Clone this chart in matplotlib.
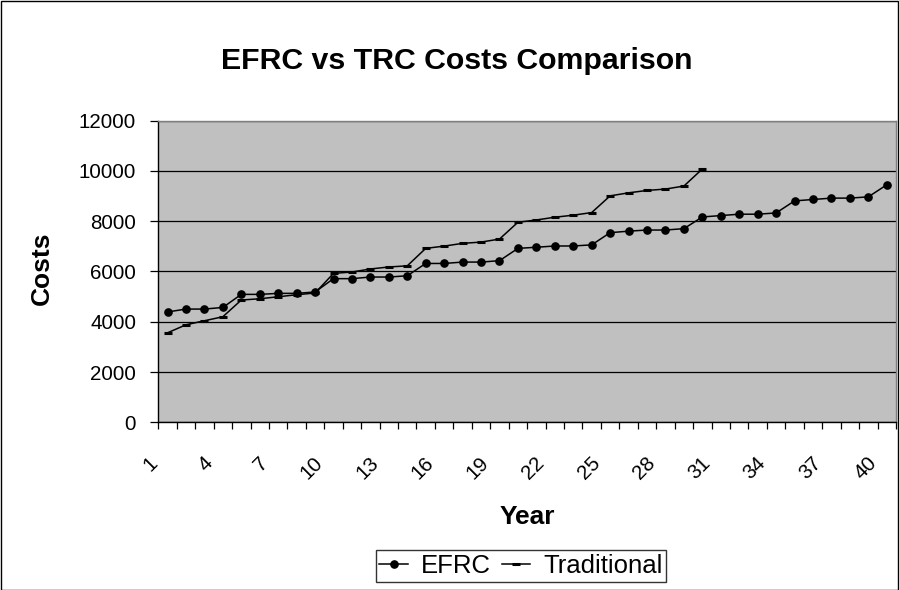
import matplotlib
matplotlib.use("Agg")
import matplotlib.pyplot as plt
import matplotlib.transforms as mtransforms
from matplotlib.ticker import FixedLocator, NullFormatter
from matplotlib.patches import Rectangle

plt.rcParams['font.family'] = ['Liberation Sans', 'DejaVu Sans']

years = list(range(1, 41))
efrc = [4390, 4505, 4505, 4570, 5090, 5090, 5130, 5130, 5185, 5715,
        5715, 5780, 5780, 5830, 6320, 6320, 6375, 6375, 6430, 6920,
        6965, 7015, 7015, 7060, 7545, 7605, 7650, 7650, 7705, 8170,
        8225, 8280, 8280, 8330, 8810, 8865, 8920, 8920, 8970, 9450]
trad_years = list(range(1, 31))
traditional = [3560, 3880, 4040, 4200, 4865, 4915, 4995, 5075, 5145, 5925,
               5980, 6100, 6180, 6225, 6920, 7010, 7120, 7170, 7290, 7960,
               8050, 8160, 8240, 8345, 9010, 9130, 9225, 9280, 9400, 10080]
xtick_labels = [str(v) for v in range(1, 41, 3)]
yticks = [0, 2000, 4000, 6000, 8000, 10000, 12000]

W, H = 899, 590
fig = plt.figure(figsize=(W / 100, H / 100), dpi=100)
ax = fig.add_axes([158.3 / W, 1 - 422.3 / H, (896 - 158.3) / W, (422.3 - 120.7) / H])
ax.set_facecolor('#C0C0C0')

ax.plot(years, efrc, color='black', lw=1.1, marker='o', ms=5.2,
        mfc='black', mec='black', label='EFRC', zorder=3)
ax.plot(trad_years, traditional, color='black', lw=1.1, marker='_', ms=6,
        mew=2.2, label='Traditional', zorder=3)

ax.set_xlim(0.5, 40.5)
ax.set_ylim(0, 12000)
ax.set_yticks(yticks)
ax.set_yticklabels([str(v) for v in yticks], fontsize=14.8)
ax.yaxis.grid(True, color='black', lw=0.9)
ax.set_axisbelow(True)
ax.tick_params(axis='y', length=6, width=0.9, pad=10)

ax.set_xticks(list(range(1, 41, 3)))
ax.set_xticklabels(xtick_labels, fontsize=14.8, rotation=45, ha='right',
                   va='top', rotation_mode='anchor')
ax.xaxis.set_minor_locator(FixedLocator([i + 0.5 for i in range(0, 41)]))
ax.xaxis.set_minor_formatter(NullFormatter())
ax.tick_params(axis='x', which='major', length=0, pad=22)
ax.tick_params(axis='x', which='minor', length=5, width=0.9)
offset = mtransforms.ScaledTranslation(-20 / 100, 0, fig.dpi_scale_trans)
for lab in ax.get_xticklabels():
    lab.set_transform(lab.get_transform() + offset)

for s in ['left', 'bottom']:
    ax.spines[s].set_color('black')
    ax.spines[s].set_linewidth(1.0)
for s in ['top', 'right']:
    ax.spines[s].set_color('#808080')
    ax.spines[s].set_linewidth(1.0)

fig.text(527 / W, 1 - 524 / H, 'Year', fontsize=19, fontweight='bold',
         ha='center', va='baseline')
fig.text(42 / W, 1 - 268 / H, 'Costs', fontsize=19, fontweight='bold',
         ha='center', va='center', rotation=90)

fig.text(456.5 / W, 1 - 61 / H, 'EFRC vs TRC Costs Comparison', fontsize=21.8,
         fontweight='bold', ha='center', va='center')

leg = fig.legend(loc='upper center', bbox_to_anchor=(521 / W, 1 - 550 / H),
                 ncol=2, fontsize=18.5, frameon=True, fancybox=False,
                 edgecolor='black', handlelength=1.1, handletextpad=0.5,
                 columnspacing=0.45, borderpad=0.15, borderaxespad=0)
leg.get_frame().set_linewidth(1.0)

fig.patches.append(Rectangle((0.5 / W, 0), 1 - 1.5 / W, 1 - 0.5 / H,
                             transform=fig.transFigure, fill=False,
                             edgecolor='black', lw=1.0))

fig.savefig('out.png', dpi=100)
